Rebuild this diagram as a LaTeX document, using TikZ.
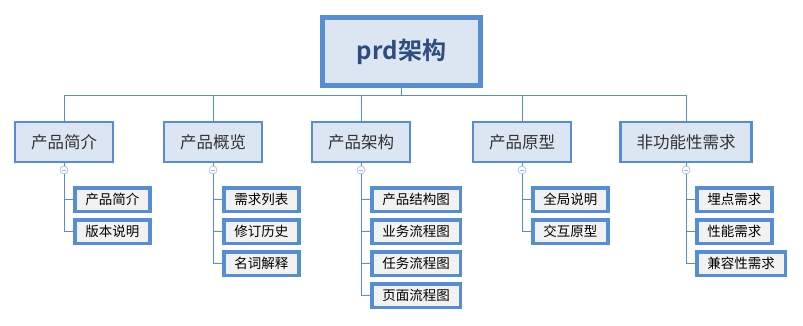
\documentclass[tikz,border=0pt]{standalone}
\usepackage{fontspec}
\setmainfont{Noto Sans CJK SC}[BoldFont={Noto Sans CJK SC Bold}]
\usetikzlibrary{positioning}

\definecolor{frameblue}{HTML}{558ED5}
\definecolor{topfill}{HTML}{DCE6F2}
\definecolor{leaffill}{HTML}{F2F2F2}
\definecolor{titleblue}{HTML}{2E4C7E}
\definecolor{textgray}{HTML}{333333}

\begin{document}
\begin{tikzpicture}[x=1pt, y=-1pt,
  root/.style={draw=frameblue, fill=topfill, line width=5pt, minimum width=158pt,
               minimum height=68pt, text=titleblue,
               font=\fontsize{24}{28}\selectfont\bfseries},
  topic/.style={draw=frameblue, fill=topfill, line width=2.5pt, minimum height=39.5pt,
                inner xsep=16pt, text=textgray, font=\fontsize{16.5}{19}\selectfont},
  leaf/.style={draw=frameblue, fill=leaffill, line width=3.5pt, minimum height=23.5pt,
               inner xsep=10.5pt, font=\fontsize{13.5}{15}\selectfont},
  fold/.style={circle, draw=frameblue!50, fill=white, line width=0.8pt,
               minimum size=8pt, inner sep=0pt, text=frameblue!60},
  link/.style={draw=frameblue, line width=1pt},
  node distance=5pt
]
  \useasboundingbox (0,0) rectangle (803,326);

  % Root
  \node[root] (prd) at (401.5,51.5) {prd架构};
  \coordinate (bus) at (401.5,96);

  % First level
  \node[topic] (intro) at (64,142)  {产品简介};
  \node[topic] (view)  at (213,142) {产品概览};
  \node[topic] (arch)  at (361,142) {产品架构};
  \node[topic] (proto) at (522,142) {产品原型};
  \node[topic] (nfr)   at (686,142) {非功能性需求};

  \draw[link] (prd) -- (prd.south |- bus);
  \draw[link] (intro) -- (intro.north |- bus) -| (nfr);
  \draw[link] (view)  -- (view.north |- bus);
  \draw[link] (arch)  -- (arch.north |- bus);
  \draw[link] (proto) -- (proto.north |- bus);

  % Fold markers
  \node[fold] (mintro) at (64,170)  {\rule{4pt}{0.7pt}};
  \node[fold] (mview)  at (213,170) {\rule{4pt}{0.7pt}};
  \node[fold] (march)  at (361,170) {\rule{4pt}{0.7pt}};
  \node[fold] (mproto) at (522,170) {\rule{4pt}{0.7pt}};
  \node[fold] (mnfr)   at (686,170) {\rule{4pt}{0.7pt}};

  % Leaves
  \node[leaf, anchor=west] (intro1) at (73,199.5) {产品简介};
  \node[leaf, below=of intro1.south west, anchor=north west] (intro2) {版本说明};

  \node[leaf, anchor=west] (view1) at (222,199.5) {需求列表};
  \node[leaf, below=of view1.south west, anchor=north west] (view2) {修订历史};
  \node[leaf, below=of view2.south west, anchor=north west] (view3) {名词解释};

  \node[leaf, anchor=west] (arch1) at (370,199.5) {产品结构图};
  \node[leaf, below=of arch1.south west, anchor=north west] (arch2) {业务流程图};
  \node[leaf, below=of arch2.south west, anchor=north west] (arch3) {任务流程图};
  \node[leaf, below=of arch3.south west, anchor=north west] (arch4) {页面流程图};

  \node[leaf, anchor=west] (proto1) at (531,199.5) {全局说明};
  \node[leaf, below=of proto1.south west, anchor=north west] (proto2) {交互原型};

  \node[leaf, anchor=west] (nfr1) at (695,199.5) {埋点需求};
  \node[leaf, below=of nfr1.south west, anchor=north west] (nfr2) {性能需求};
  \node[leaf, below=of nfr2.south west, anchor=north west] (nfr3) {兼容性需求};

  % Leaf connectors
  \draw[link] (intro) -- (mintro);
  \draw[link] (view)  -- (mview);
  \draw[link] (arch)  -- (march);
  \draw[link] (proto) -- (mproto);
  \draw[link] (nfr)   -- (mnfr);

  \draw[link] (mintro) |- (intro1);
  \draw[link] (mintro) |- (intro2);
  \draw[link] (mview) |- (view1);
  \draw[link] (mview) |- (view2);
  \draw[link] (mview) |- (view3);
  \draw[link] (march) |- (arch1);
  \draw[link] (march) |- (arch2);
  \draw[link] (march) |- (arch3);
  \draw[link] (march) |- (arch4);
  \draw[link] (mproto) |- (proto1);
  \draw[link] (mproto) |- (proto2);
  \draw[link] (mnfr) |- (nfr1);
  \draw[link] (mnfr) |- (nfr2);
  \draw[link] (mnfr) |- (nfr3);
\end{tikzpicture}
\end{document}
